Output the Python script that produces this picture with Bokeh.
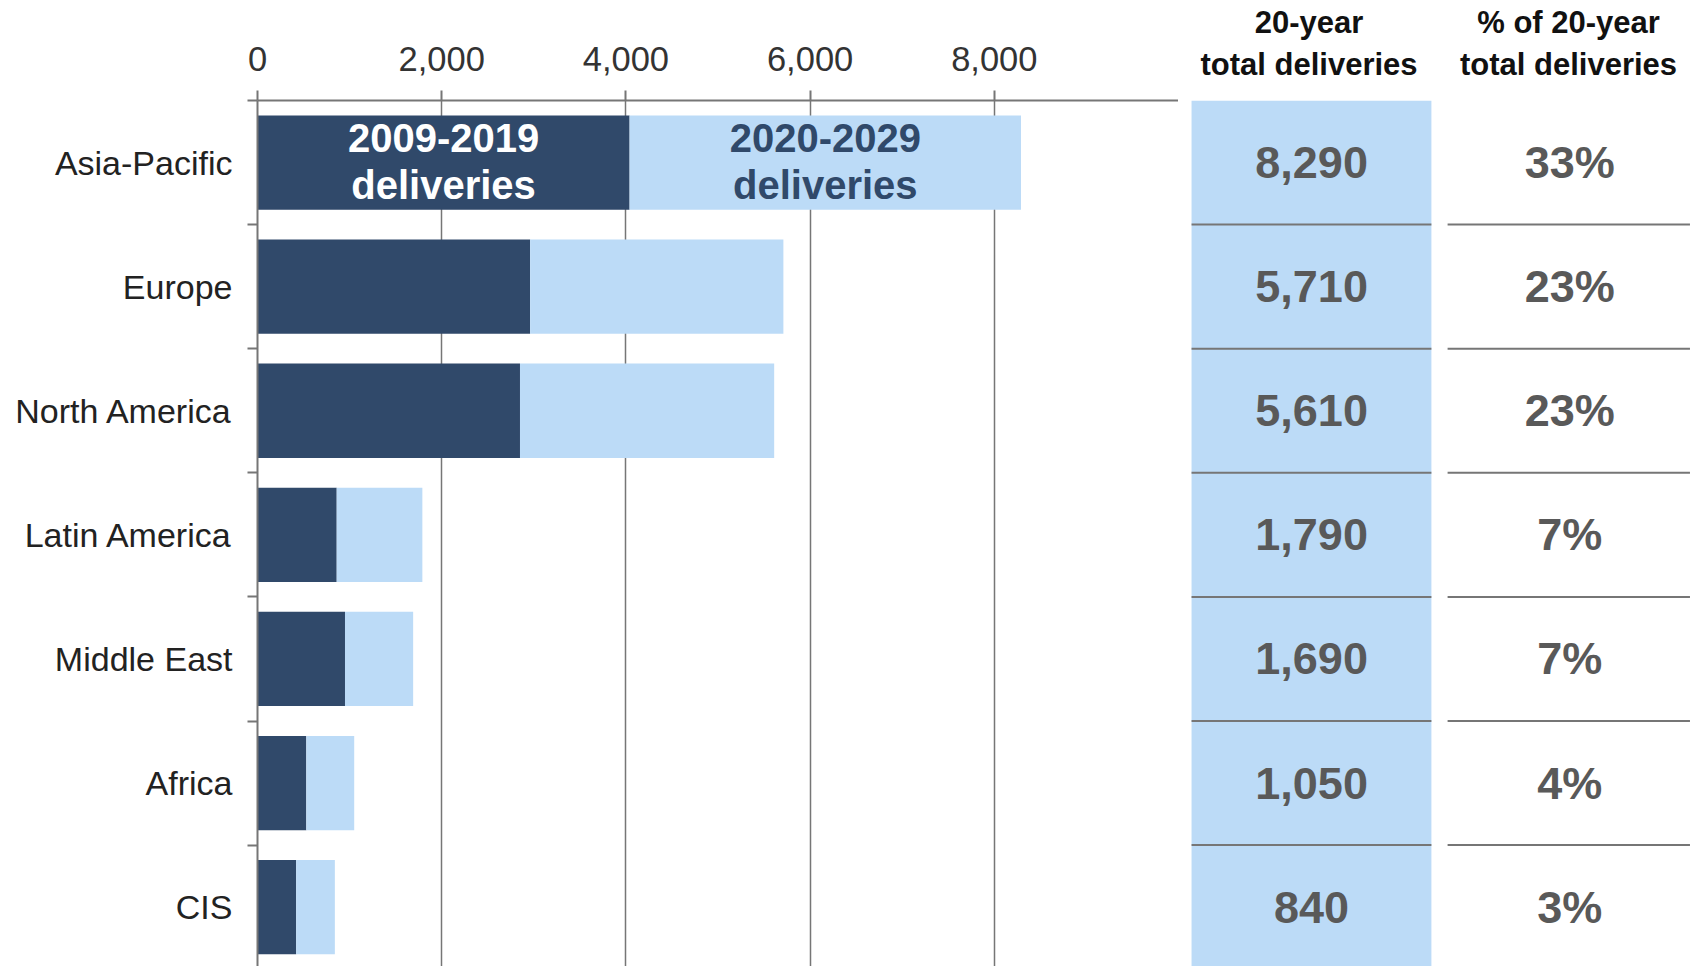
from bokeh.plotting import figure
from bokeh.layouts import row
from bokeh.models import (Range1d, FixedTicker, NumeralTickFormatter, LinearAxis,
                          ColumnDataSource)
from bokeh.core.properties import value
from bokeh.embed import file_html
from bokeh.resources import INLINE

# ---- data ----
regions = ["Asia-Pacific", "Europe", "North America", "Latin America",
           "Middle East", "Africa", "CIS"]
deliveries_2009_2019 = [4040, 2960, 2850, 860, 950, 530, 420]
total_20yr = [8290, 5710, 5610, 1790, 1690, 1050, 840]
share_pct = [33, 23, 23, 7, 7, 4, 3]
x_ticks = [0, 2000, 4000, 6000, 8000]
header_col1 = "20-year\ntotal deliveries"
header_col2 = "% of 20-year\ntotal deliveries"
series_labels = [["2009-2019", "deliveries"], ["2020-2029", "deliveries"]]

deliveries_2020_2029 = [t - d for t, d in zip(total_20yr, deliveries_2009_2019)]

DARK = "#30496A"
LIGHT = "#BCDBF7"
GREY = "#767676"
FONT = "Liberation Sans"

n = len(regions)
centers = [i + 0.5 for i in range(n)]
boundaries = list(range(n + 1))
inner = boundaries[1:-1]

H = 966
ROW_PX = 124.1
TOP_PX = 100          # frame top inside figure
y_bottom = (H - TOP_PX) / ROW_PX

# ---- bar chart ----
p = figure(width=1178, height=H, output_backend="svg", toolbar_location=None,
           x_range=Range1d(0, 10000), y_range=Range1d(y_bottom, 0),
           x_axis_location=None, y_axis_location=None,
           min_border_left=257, min_border_top=TOP_PX, min_border_right=0,
           min_border_bottom=0)
p.outline_line_color = None
p.ygrid.visible = False

xaxis = LinearAxis(ticker=FixedTicker(ticks=x_ticks, minor_ticks=[]),
                   formatter=NumeralTickFormatter(format="0,0"))
xaxis.axis_line_color = GREY
xaxis.axis_line_width = 2
xaxis.major_tick_line_color = GREY
xaxis.major_tick_line_width = 2
xaxis.major_tick_out = 10
xaxis.major_tick_in = 0
xaxis.major_label_text_font = FONT
xaxis.major_label_text_font_size = "34.5px"
xaxis.major_label_text_color = "#333333"
xaxis.major_label_standoff = 20
p.add_layout(xaxis, "above")

yaxis = LinearAxis(ticker=FixedTicker(ticks=centers, minor_ticks=boundaries))
yaxis.major_label_overrides = {c: r for c, r in zip(centers, regions)}
yaxis.axis_line_color = GREY
yaxis.axis_line_width = 2
yaxis.major_tick_out = 0
yaxis.major_tick_in = 0
yaxis.minor_tick_out = 10
yaxis.minor_tick_in = 0
yaxis.minor_tick_line_color = GREY
yaxis.minor_tick_line_width = 2
yaxis.major_label_text_font = FONT
yaxis.major_label_text_font_size = "34px"
yaxis.major_label_text_color = "#222222"
yaxis.major_label_standoff = 15
p.add_layout(yaxis, "left")

p.xgrid.ticker = FixedTicker(ticks=x_ticks[1:])
p.xgrid.grid_line_color = GREY
p.xgrid.grid_line_width = 1.5

src = ColumnDataSource(dict(y=centers, d=deliveries_2009_2019, t=total_20yr))
p.hbar(y="y", left=0, right="d", height=0.76, source=src, fill_color=DARK, line_color=None)
p.hbar(y="y", left="d", right="t", height=0.76, source=src, fill_color=LIGHT, line_color=None)

# series labels inside first bar
d0 = deliveries_2009_2019[0]
l0 = deliveries_2020_2029[0]
seg_centers = [d0 / 2, d0 + l0 / 2]
seg_colors = ["white", DARK]
for k in range(2):
    for j, txt in enumerate(series_labels[k]):
        p.text(x=[seg_centers[k]], y=[centers[0] + (-0.2 if j == 0 else 0.18)], text=[txt],
               text_align="center", text_baseline="middle",
               text_font=value(FONT), text_font_style="bold",
               text_font_size="40px", text_color=seg_colors[k])


# ---- table columns ----
def table_column(width, header, labels, band, line_span, head_x, text_x):
    f = figure(width=width, height=H, output_backend="svg", toolbar_location=None,
               x_range=Range1d(0, 1), y_range=Range1d(y_bottom, 0),
               x_axis_location=None, y_axis_location=None,
               min_border_left=0, min_border_top=TOP_PX, min_border_right=0,
               min_border_bottom=0, title=None)
    f.outline_line_color = None
    f.grid.visible = False
    hax = LinearAxis(ticker=FixedTicker(ticks=[head_x], minor_ticks=[]))
    hax.major_label_overrides = {head_x: header}
    hax.axis_line_color = None
    hax.major_tick_line_color = None
    hax.major_tick_out = 0
    hax.major_tick_in = 0
    hax.major_label_standoff = 19
    hax.major_label_text_font = FONT
    hax.major_label_text_font_style = "bold"
    hax.major_label_text_font_size = "31px"
    hax.major_label_text_color = "#111111"
    f.add_layout(hax, "above")
    if band:
        f.quad(left=[line_span[0]], right=[line_span[1]], top=[0], bottom=[n + 1],
               fill_color=LIGHT, line_color=None)
    f.segment(x0=[line_span[0]] * len(inner), x1=[line_span[1]] * len(inner),
              y0=inner, y1=inner, line_color=GREY, line_width=2)
    f.text(x=[text_x] * n, y=centers, text=labels, text_align="center",
           text_baseline="middle", text_font=value(FONT), text_font_style="bold",
           text_font_size="45px", text_color="#595959")
    return f


t1 = table_column(261, header_col1, [f"{v:,}" for v in total_20yr], True,
                  (0.05, 0.969), 0.5, 0.51)
t2 = table_column(1692 - 1178 - 261, header_col2, [f"{v}%" for v in share_pct], False,
                  (0.032, 0.99), 0.51, 0.515)

layout = row(p, t1, t2)
open("out.html", "w").write(file_html(layout, INLINE))
